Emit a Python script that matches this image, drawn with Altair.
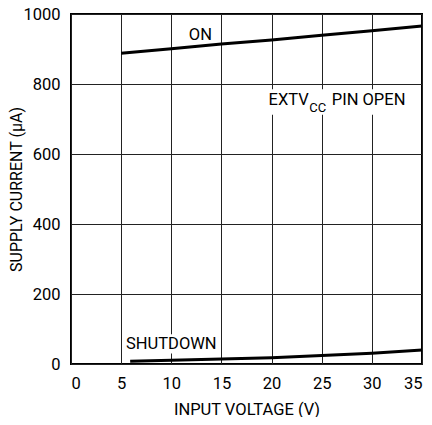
import altair as alt
import pandas as pd

FONT = "Roboto"
FS = 16.5

on_x = [5, 10, 15, 20, 25, 30, 35]
on_y = [888, 901, 914, 926, 939, 952, 966]

sd_x = [5.9, 10, 15, 20, 25, 30, 35]
sd_y = [8, 11, 14, 18, 24, 31, 40]

df = pd.DataFrame(
    {"x": on_x + sd_x, "y": on_y + sd_y, "s": ["ON"] * len(on_x) + ["SHUTDOWN"] * len(sd_x)}
)

# text annotations
lab_text = ["ON", "SHUTDOWN", "EXTV", "PIN OPEN"]
lab_x = [12.9, 10.0, 19.7, 26.0]
lab_y = [940, 57, 753, 753]
lab_align = ["center", "center", "left", "left"]
labs = pd.DataFrame({"t": lab_text, "x": lab_x, "y": lab_y, "a": lab_align})

sub_text = ["CC"]
sub_x = [23.75]
sub_y = [732]
subs = pd.DataFrame({"t": sub_text, "x": sub_x, "y": sub_y})

# white boxes behind labels (data units)
box_x = [5.3, 19.3]
box_x2 = [14.8, 34.0]
box_y = [30, 712]
box_y2 = [85, 785]
boxes = pd.DataFrame({"x": box_x, "x2": box_x2, "y": box_y, "y2": box_y2})

xs = alt.Scale(domain=[0, 35], nice=False)
ys = alt.Scale(domain=[0, 1000], nice=False)

base_x = alt.X(
    "x:Q",
    scale=xs,
    title="INPUT VOLTAGE (V)",
    axis=alt.Axis(
        values=[0, 5, 10, 15, 20, 25, 30, 35],
        format="d",
        titleX=175.5,
        titleY=45,
        titleBaseline="middle",
        titleAlign="center",
    ),
)
base_y = alt.Y(
    "y:Q",
    scale=ys,
    title="SUPPLY CURRENT (µA)",
    axis=alt.Axis(
        values=[0, 200, 400, 600, 800, 1000],
        format="d",
        titleX=-55,
        titleY=175,
        titleAngle=270,
        titleBaseline="middle",
        titleAlign="center",
        titleFontSize=16,
    ),
)

lines = alt.Chart(df).mark_line(color="black", strokeWidth=3).encode(
    x=base_x, y=base_y, detail="s:N"
)

bg = alt.Chart(boxes).mark_rect(color="white").encode(
    x=alt.X("x:Q", scale=xs), x2="x2", y=alt.Y("y:Q", scale=ys), y2="y2"
)

txt_l = alt.Chart(labs[labs.a == "left"]).mark_text(
    font=FONT, fontSize=FS, align="left", baseline="middle", color="black"
).encode(x=alt.X("x:Q", scale=xs), y=alt.Y("y:Q", scale=ys), text="t:N")

txt_c = alt.Chart(labs[labs.a == "center"]).mark_text(
    font=FONT, fontSize=FS, align="center", baseline="middle", color="black"
).encode(x=alt.X("x:Q", scale=xs), y=alt.Y("y:Q", scale=ys), text="t:N")

txt_s = alt.Chart(subs).mark_text(
    font=FONT, fontSize=13, align="left", baseline="middle", color="black"
).encode(x=alt.X("x:Q", scale=xs), y=alt.Y("y:Q", scale=ys), text="t:N")

chart = (
    alt.layer(bg, lines, txt_l, txt_c, txt_s)
    .properties(
        width=351,
        height=350,
        autosize=alt.AutoSizeParams(type="none"),
        padding={"left": 63, "top": 6, "right": 2, "bottom": 53},
    )
    .configure_view(stroke="black", strokeWidth=2)
    .configure_axis(
        grid=True,
        gridColor="#222222",
        gridWidth=1,
        domain=False,
        ticks=False,
        labelFont=FONT,
        labelFontSize=FS,
        labelColor="black",
        titleFont=FONT,
        titleFontSize=FS,
        titleFontWeight="normal",
        titleColor="black",
    )
    .configure_axisX(labelPadding=11)
    .configure_axisY(labelPadding=11)
)

chart.save("out.html", embed_options={"renderer": "svg", "actions": False})
